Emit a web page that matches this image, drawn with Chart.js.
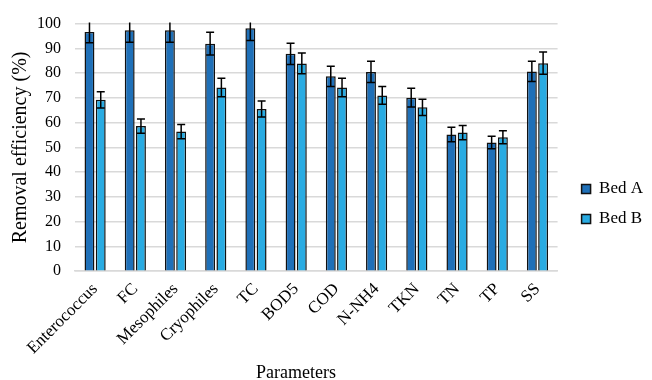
<!DOCTYPE html>
<html>
<head>
<meta charset="utf-8">
<script src="https://cdn.jsdelivr.net/npm/chart.js@4/dist/chart.umd.min.js"></script>
<style>
  html, body { margin: 0; padding: 0; background: #fff; }
  #wrap { width: 652px; height: 380px; }
</style>
</head>
<body>
<div id="wrap"><canvas id="myBarChart"></canvas></div>
<script>
// data
const parameters = ["Enterococcus", "FC", "Mesophiles", "Cryophiles", "TC", "BOD5", "COD", "N-NH4", "TKN", "TN", "TP", "SS"];
const bedA = [96.6, 97.3, 97.3, 91.9, 98.1, 87.8, 78.7, 80.5, 70.1, 55.2, 52.0, 80.7];
const bedAErr = [4.3, 4.8, 4.8, 4.6, 4.9, 4.3, 4.1, 4.3, 3.8, 2.9, 2.5, 4.1];
const bedB = [69.2, 58.6, 56.4, 74.2, 65.5, 83.9, 74.2, 71.0, 66.2, 56.0, 54.1, 84.0];
const bedBErr = [3.3, 2.9, 2.9, 3.7, 3.2, 4.2, 3.7, 3.6, 3.3, 2.9, 2.6, 4.5];
const yTicks = [0, 10, 20, 30, 40, 50, 60, 70, 80, 90, 100];

const serif = "Liberation Serif";
Chart.defaults.font.family = serif;
Chart.defaults.color = '#000';

// error bars drawn through the y scale
const errorBars = {
  id: 'errorBars',
  afterLayout(chart) {
    // nudge the legend a bit right and down, like the Excel original
    const lg = chart.legend;
    lg.left += 11; lg.right += 11;
    lg.top += 7; lg.bottom += 7;
  },
  afterDatasetsDraw(chart) {
    const { ctx, chartArea, scales } = chart;
    ctx.save();
    ctx.beginPath();
    ctx.rect(chartArea.left, chartArea.top - 1, chartArea.right - chartArea.left, chartArea.bottom - chartArea.top + 1);
    ctx.clip();
    ctx.strokeStyle = '#000';
    ctx.lineWidth = 1.5;
    chart.data.datasets.forEach((ds, i) => {
      const meta = chart.getDatasetMeta(i);
      meta.data.forEach((bar, j) => {
        const v = ds.data[j], e = ds.errors[j];
        const yTop = scales.y.getPixelForValue(v + e);
        const yBot = scales.y.getPixelForValue(v - e);
        const x = bar.x, w = 4;
        ctx.beginPath();
        ctx.moveTo(x, yTop); ctx.lineTo(x, yBot);
        ctx.moveTo(x - w, yTop); ctx.lineTo(x + w, yTop);
        ctx.moveTo(x - w, yBot); ctx.lineTo(x + w, yBot);
        ctx.stroke();
      });
    });
    ctx.restore();
  }
};

const chartData = {
  labels: parameters,
  datasets: [{
    label: 'Bed A',
    data: bedA,
    errors: bedAErr,
    backgroundColor: '#1f70b8',
    borderColor: '#111',
    borderWidth: 1.5,
    categoryPercentage: 0.56,
    barPercentage: 0.88
  }, {
    label: 'Bed B',
    data: bedB,
    errors: bedBErr,
    backgroundColor: '#29abe2',
    borderColor: '#111',
    borderWidth: 1.5,
    categoryPercentage: 0.56,
    barPercentage: 0.88
  }]
};

const chartOptions = {
  responsive: true,
  maintainAspectRatio: false,
  animation: false,
  layout: { padding: { top: 14, right: 10, left: 9, bottom: 0 } },
  plugins: {
    tooltip: { enabled: false },
    legend: {
      position: 'right',
      labels: {
        boxWidth: 9,
        boxHeight: 9,
        padding: 13,
        color: '#000',
        font: { family: serif, size: 17 }
      }
    }
  },
  scales: {
    x: {
      // let the first rotated label hang past the plot's left edge
      afterFit: (scale) => { scale.paddingLeft = 0; },
      grid: { display: false },
      border: { color: '#d9d9d9', width: 1.5 },
      ticks: {
        color: '#000',
        font: { family: serif, size: 17 },
        minRotation: 45,
        maxRotation: 45,
        padding: 0
      },
      title: {
        display: true,
        text: 'Parameters         ',
        color: '#000',
        font: { family: serif, size: 18 },
        padding: { top: 4, bottom: -4 }
      }
    },
    y: {
      min: 0,
      max: 100,
      afterBuildTicks: (axis) => { axis.ticks = yTicks.map(v => ({ value: v })); },
      afterFit: (scale) => { scale.width = 66; },
      grid: { color: '#d9d9d9', lineWidth: 1.5, drawTicks: false },
      border: { display: false },
      ticks: {
        color: '#000',
        font: { family: serif, size: 16 },
        padding: 14
      },
      title: {
        display: true,
        text: 'Removal efficiency (%)',
        color: '#000',
        font: { family: serif, size: 20 },
        padding: { top: 0, bottom: 4 }
      }
    }
  }
};

const ctx = document.getElementById('myBarChart');
const barChart = new Chart(ctx, {
  type: 'bar',
  data: chartData,
  options: chartOptions,
  plugins: [errorBars]
});
</script>
</body>
</html>
